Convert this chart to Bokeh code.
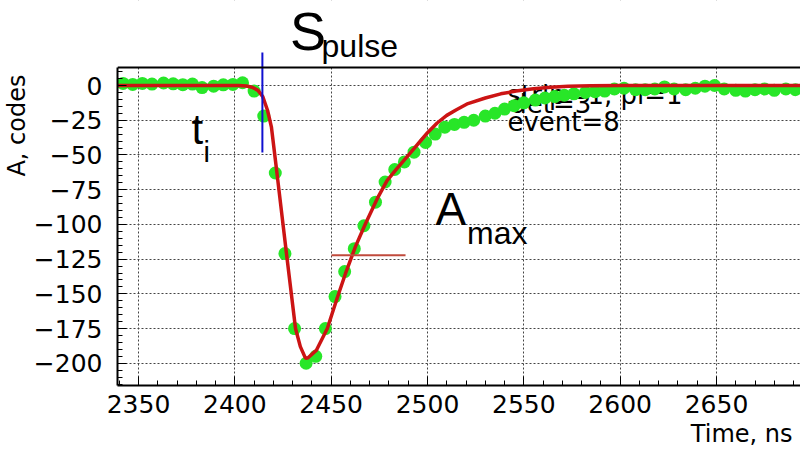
from bokeh.plotting import figure
from bokeh.models import (Range1d, SingleIntervalTicker, Label, CustomJSTickFormatter,
                          BoxAnnotation, Title)
from bokeh.core.properties import value
from bokeh.embed import file_html
from bokeh.resources import INLINE

# ---- data ----
time_ns = [2337, 2342, 2347, 2352, 2357, 2363, 2368, 2373, 2378, 2383, 2389, 2394, 2399, 2404,
           2410, 2415, 2421, 2426, 2431, 2437, 2442, 2447, 2452, 2457, 2462, 2467, 2473, 2478,
           2483, 2488, 2493, 2499, 2504, 2509, 2514, 2519, 2524, 2530, 2535, 2540, 2545, 2550,
           2556, 2561, 2566, 2571, 2576, 2582, 2587, 2592, 2597, 2602, 2608, 2613, 2618, 2623,
           2628, 2634, 2639, 2644, 2649, 2654, 2660, 2665, 2670, 2675, 2680, 2686, 2691, 2696]
amp_codes = [1.0, 1.5, 0.8, 1.5, 1.0, 1.8, 1.2, 0.6, 1.0, -1.5, -0.5, 0.5, 0.8, 2.0,
             -4, -22, -63, -121, -175, -200, -195, -175, -152, -134, -117.5, -101, -84, -69.5,
             -60.5, -55, -48, -41, -35, -30, -28, -26.5, -25, -22, -20, -17, -14.5, -12.5,
             -10.5, -9, -8, -7, -6, -5, -4.5, -4, -2.5, -2, -3, -3, -2.5, -1,
             -2.5, -3, -2, -0.5, 0, -2.5, -3.5, -4, -3, -2.5, -3.5, -2.5, -3, -3]

fit_t = [2337, 2402, 2406, 2409, 2412, 2414.5, 2417, 2419, 2421.6, 2426.8, 2431.5, 2434, 2436.7,
         2438, 2442.4, 2448, 2453, 2457.4, 2462.6, 2467.8, 2473.9, 2479, 2484, 2488, 2492, 2496,
         2500, 2505, 2510, 2515, 2521, 2530, 2538, 2546, 2555, 2564, 2573, 2585, 2600, 2700]
fit_a = [0, 0, -0.3, -1.2, -3.5, -8, -18, -30, -60, -121, -175, -188, -196.5,
         -196, -190.5, -175, -153.5, -135.5, -116, -99.5, -81.5, -68.5, -60, -53.5, -47, -40.5,
         -34, -27, -21.5, -17.5, -13, -9, -6, -4, -2.4, -1.3, -0.6, -0.2, 0, 0]

t_i = 2414.3                 # start-of-pulse marker
t_i_span = [-48.2, 23.7]
a_max_level = -122.3         # amplitude marker
a_max_span = [2450.2, 2488.6]

info_lines = ["strip=1, pl=1", "det=3", "event=8"]
info_x = [2541.5, 2543.0, 2541.5]
info_y = [-6.5, -13.3, -26.4]

x_lo, x_hi = 2339.1, 2693.6
y_lo, y_box, y_hi = -216.0, 13.0, 61.2   # y_box: top edge of the histogram box

p = figure(width=800, height=455, x_range=Range1d(x_lo, x_hi), y_range=Range1d(y_lo, y_hi),
           output_backend="svg", toolbar_location=None,
           min_border_left=117, min_border_top=0, min_border_bottom=70, min_border_right=0)
p.outline_line_color = None
p.background_fill_color = "white"
p.border_fill_color = "white"

xt = SingleIntervalTicker(interval=50, num_minor_ticks=5)
yt = SingleIntervalTicker(interval=25, num_minor_ticks=5)
p.xaxis.ticker = xt
p.yaxis.ticker = yt
p.xgrid.ticker = xt
p.ygrid.ticker = yt
p.yaxis.bounds = (y_lo, y_box)
p.yaxis.formatter = CustomJSTickFormatter(code="return tick < 0 ? '\u2212' + (-tick) : String(tick);")

for ax in (p.xaxis, p.yaxis):
    ax.axis_line_width = 2
    ax.axis_line_color = "black"
    ax.major_tick_in = 9
    ax.major_tick_out = 0
    ax.minor_tick_in = 5
    ax.minor_tick_out = 0
    ax.major_tick_line_color = "black"
    ax.minor_tick_line_color = "black"
    ax.major_label_text_font = "DejaVu Sans"
    ax.major_label_text_font_size = "25px"
    ax.major_label_text_color = "black"
p.xaxis.major_label_standoff = 9
p.yaxis.major_label_standoff = 15

for g in (p.xgrid, p.ygrid):
    g.grid_line_color = "#444444"
    g.grid_line_dash = "2 2"
    g.grid_line_width = 1

# blank out everything above the histogram box (grid lines stop at its top edge)
p.add_layout(BoxAnnotation(bottom=y_box, fill_color="white", fill_alpha=1.0,
                           line_color=None, level="underlay"))

# info text (drawn first, under the data)
p.text(x=info_x, y=info_y, text=info_lines, text_font=value("DejaVu Sans"),
       text_font_size="26px", text_color="black", text_align="left",
       text_baseline="alphabetic")

p.scatter(time_ns, amp_codes, size=13, fill_color="#28e628", line_color=None)
p.line(fit_t, fit_a, line_color="#cc1414", line_width=3.5)
p.line(a_max_span, [a_max_level, a_max_level], line_color="#c04a3c", line_width=2)
p.line([t_i, t_i], t_i_span, line_color="#1010d0", line_width=2)
# top edge of the box
p.line([x_lo, x_hi], [y_box, y_box], line_color="black", line_width=2)


def lab(x, y, txt, size):
    p.add_layout(Label(x=x, y=y, text=txt, text_font="Liberation Sans", text_font_size=size,
                       text_color="black", text_baseline="alphabetic"))


lab(2428.6, 39.6, "S", "54px")
lab(2445.0, 28.8, "pulse", "32px")
lab(2377.5, -31.4, "t", "42px")
lab(2383.7, -48.0, "i", "29px")
lab(2504.1, -88.8, "A", "46px")
lab(2520.5, -106.1, "max", "32px")

p.add_layout(Title(text="A, codes", align="right", offset=74, text_font="DejaVu Sans",
                   text_font_size="24px", text_font_style="normal", text_color="black",
                   standoff=0), "left")
p.add_layout(Title(text="Time, ns", align="right", offset=8, text_font="DejaVu Sans",
                   text_font_size="24px", text_font_style="normal", text_color="black",
                   vertical_align="top", standoff=8), "below")

open("out.html", "w").write(file_html(p, INLINE))
